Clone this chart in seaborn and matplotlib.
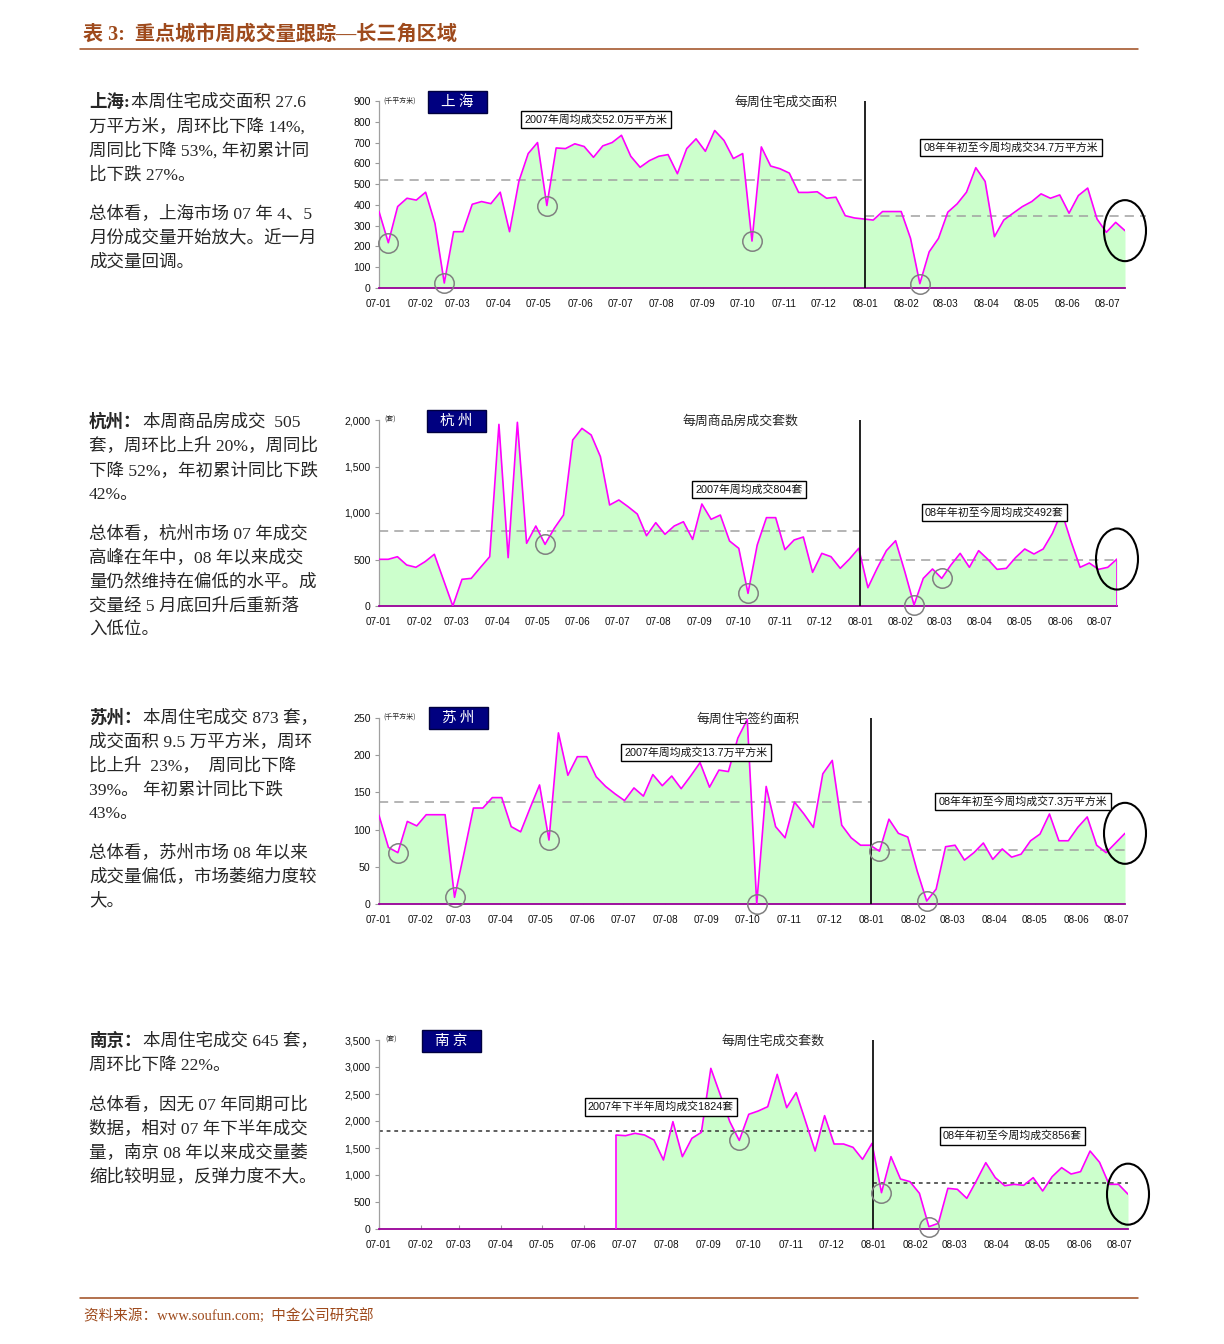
import pandas as pd
import numpy as np
import matplotlib
matplotlib.use('Agg')
import matplotlib.pyplot as plt
import matplotlib.dates as mdates
import seaborn as sns
from matplotlib.patches import Ellipse, Rectangle
from matplotlib.lines import Line2D
from matplotlib.transforms import ScaledTranslation
from matplotlib.ticker import FuncFormatter

sns.set_theme(style='white')
plt.rcParams['font.family'] = ['Liberation Sans', 'Noto Sans CJK SC', 'DejaVu Sans']
plt.rcParams['axes.unicode_minus'] = False

SANS = ['Liberation Sans', 'Noto Sans CJK SC', 'DejaVu Sans']
SERIF = ['Liberation Serif', 'Noto Sans CJK SC', 'DejaVu Sans']
CJK = ['Noto Sans CJK SC', 'DejaVu Sans']

# ---------------- data (weekly) ----------------
shanghai_values = [368, 218, 392, 432, 423, 461, 311, 24, 271, 271, 403, 416, 406, 461, 271, 513,
                   647, 700, 397, 674, 671, 694, 681, 629, 684, 700, 735, 634, 581, 613, 634, 642,
                   550, 671, 718, 658, 758, 710, 623, 647, 226, 679, 587, 574, 553, 460, 460, 463,
                   432, 437, 348, 337, 332, 327, 368, 368, 368, 239, 21, 174, 239, 365, 405, 461,
                   579, 513, 247, 327, 360, 392, 416, 453, 432, 448, 360, 445, 481, 332, 268, 316, 276]
hangzhou_values = [502, 502, 530, 441, 416, 477, 556, 278, 0, 287, 297, 415, 530, 1953, 520, 1975,
                   674, 860, 663, 835, 978, 1785, 1910, 1839, 1606, 1086, 1140, 1068, 989, 756, 896, 771,
                   860, 906, 716, 1097, 932, 978, 699, 620, 136, 656, 950, 950, 606, 710, 742, 362,
                   566, 530, 405, 505, 620, 197, 405, 595, 702, 369, 11, 297, 398, 297, 441, 566,
                   416, 595, 502, 394, 405, 520, 613, 559, 613, 781, 1014, 699, 416, 462, 394, 416, 505]
suzhou_values = [119, 76, 69, 111, 105, 120, 120, 120, 9, 68, 129, 129, 143, 143, 104, 97,
                 129, 160, 86, 230, 173, 198, 198, 171, 158, 148, 139, 156, 145, 174, 159, 172,
                 155, 172, 190, 157, 180, 178, 223, 248, 0, 158, 104, 89, 137, 121, 103, 175,
                 193, 106, 89, 79, 79, 71, 114, 95, 90, 44, 4, 20, 77, 79, 59, 69,
                 82, 60, 74, 63, 67, 85, 94, 121, 85, 85, 103, 117, 79, 69, 82, 95]
nanjing_values = [1740, 1728, 1772, 1741, 1648, 1278, 1988, 1340, 1679, 1790, 2975, 2482, 1988, 1640,
                  2124, 2185, 2265, 2864, 2247, 2525, 1988, 1444, 2099, 1574, 1574, 1512, 1290, 1586,
                  673, 1340, 926, 877, 661, 43, 105, 753, 735, 568, 889, 1228, 951, 802, 827, 809,
                  951, 704, 969, 1136, 1018, 1062, 1444, 1235, 827, 827, 645]

shanghai_dates = pd.date_range('2007-01-01', periods=len(shanghai_values), freq='7D')
hangzhou_dates = pd.date_range('2007-01-01', periods=len(hangzhou_values), freq='7D')
suzhou_dates = pd.date_range('2007-01-01', periods=len(suzhou_values), freq='7D')
nanjing_dates = pd.date_range('2007-06-25', periods=len(nanjing_values), freq='7D')

# averages
shanghai_avg = [520, 347]
hangzhou_avg = [804, 492]
suzhou_avg = [137, 73]
nanjing_avg = [1824, 856]

# highlighted low weeks (indices into each series)
shanghai_marks = [1, 7, 18, 40, 58]
hangzhou_marks = [18, 40, 58, 61]
suzhou_marks = [2, 8, 18, 40, 53, 58]
nanjing_marks = [13, 28, 33]

month_ticks = pd.date_range('2007-01-01', '2008-07-01', freq='MS')
month_labels = [d.strftime('%y-%m') for d in month_ticks]

START = pd.Timestamp('2007-01-01')
SEP = pd.Timestamp('2008-01-01')

W, H = 1224, 1344
FILL = '#CCFFCC'
LINE = '#FF00FF'
BROWN = '#9E4A1C'
BODY = 12.6

fig = plt.figure(figsize=(W / 100, H / 100), dpi=100)
fig.patch.set_facecolor('white')


def fx(x):
    return x / W


def fy(y):
    return 1 - y / H


def draw_panel(rect, dates, values, ymax, ystep, avgs, marks, avg_color, avg_dash,
               edge_left=False, edge_right=False, extend08=0):
    x0, x1, yt, yb = rect
    ax = fig.add_axes([fx(x0), fy(yb), (x1 - x0) / W, (yb - yt) / H])
    df = pd.DataFrame({'week': dates, 'value': values})
    ax.fill_between(df['week'], 0, df['value'], color=FILL, lw=0, zorder=1)
    sns.lineplot(data=df, x='week', y='value', ax=ax, color=LINE, lw=1.2, zorder=3)
    if edge_left:
        ax.vlines(dates[0], 0, values[0], color=LINE, lw=1.2, zorder=3)
    if edge_right:
        ax.vlines(dates[-1], 0, values[-1], color=LINE, lw=1.2, zorder=3)
    # averages
    ax.hlines(avgs[0], START, SEP, colors=avg_color, linestyles=avg_dash, lw=1.1, zorder=2)
    ax.hlines(avgs[1], SEP, dates[-1] + pd.Timedelta(days=extend08), colors=avg_color,
              linestyles=avg_dash, lw=1.1, zorder=2, clip_on=False)
    # year separator
    ax.axvline(SEP, color='#111111', lw=1.3, zorder=4)
    # circles around lows
    mx = [dates[i] for i in marks]
    my = [values[i] for i in marks]
    ax.plot(mx, my, 'o', ms=14, mfc='none', mec='#808080', mew=1.1, zorder=5, clip_on=False)
    # big ellipse on latest week
    trans = fig.dpi_scale_trans + ScaledTranslation(mdates.date2num(dates[-1]), values[-1], ax.transData)
    ell = Ellipse((0, 0), 0.42, 0.61, transform=trans, fill=False, ec='black', lw=1.5,
                  clip_on=False, zorder=6)
    ax.add_artist(ell)

    ax.set_xlim(START, dates[-1])
    ax.set_ylim(0, ymax)
    ax.set_yticks(np.arange(0, ymax + 1, ystep))
    ax.yaxis.set_major_formatter(FuncFormatter(lambda v, p: f'{int(v):,}'))
    ax.set_xticks(month_ticks)
    ax.set_xticklabels(month_labels)
    ax.set_xlabel('')
    ax.set_ylabel('')
    ax.tick_params(axis='x', bottom=True, direction='in', length=3, width=0.8,
                   color='#999999', pad=8, labelsize=7.2, labelcolor='#111111')
    ax.tick_params(axis='y', left=True, direction='out', length=3, width=0.8,
                   color='#999999', pad=3, labelsize=7.6, labelcolor='#111111')
    for lab in ax.get_xticklabels() + ax.get_yticklabels():
        lab.set_fontfamily(SANS)
    for s in ['top', 'right']:
        ax.spines[s].set_visible(False)
    ax.spines['left'].set_color('#A0A0A0')
    ax.spines['left'].set_linewidth(0.9)
    ax.spines['bottom'].set_color('#990099')
    ax.spines['bottom'].set_linewidth(1.3)
    ax.set_facecolor('none')
    ax.grid(False)
    return ax


def city_box(x0, y0, x1, y1, name):
    fig.add_artist(Rectangle((fx(x0), fy(y1)), (x1 - x0) / W, (y1 - y0) / H,
                             transform=fig.transFigure, fc='#000080', ec='#000040', lw=1))
    fig.text(fx((x0 + x1) / 2), fy((y0 + y1) / 2), name, color='white', fontsize=10.5,
             family=CJK, ha='center', va='center')


def note_box(cx, cy, text):
    fig.text(fx(cx), fy(cy), text, fontsize=7.8, family=SANS, ha='center', va='center',
             color='#111111',
             bbox=dict(boxstyle='square,pad=0.3', fc='white', ec='black', lw=1))


def left_text(lines):
    for y, txt, bold in lines:
        if bold:
            lead, rest = txt.split('|')
            t = fig.text(fx(89), fy(y), lead, fontsize=BODY, family=SERIF, weight='bold',
                         ha='left', va='center')
            fig.canvas.draw()
            bb = t.get_window_extent(renderer=fig.canvas.get_renderer())
            fig.text(bb.x1 / W + 0.001, fy(y), rest, fontsize=BODY, family=SERIF,
                     ha='left', va='center')
        else:
            fig.text(fx(89), fy(y), txt, fontsize=BODY, family=SERIF, ha='left', va='center')


# ---------------- header / footer ----------------
fig.text(fx(83), fy(35), '表 3:  重点城市周成交量跟踪—长三角区域', fontsize=14.5, weight='bold',
         color=BROWN, family=SERIF, ha='left', va='center')
fig.add_artist(Line2D([fx(80), fx(1138)], [fy(49), fy(49)], color=BROWN, lw=1.1,
                      transform=fig.transFigure))
fig.add_artist(Line2D([fx(80), fx(1138)], [fy(1298), fy(1298)], color=BROWN, lw=1.1,
                      transform=fig.transFigure))
fig.text(fx(84), fy(1315), '资料来源：www.soufun.com;  中金公司研究部', fontsize=10.5,
         color=BROWN, family=SERIF, ha='left', va='center')

GRAY_DASH = (0, (6, 4))
DOT_DASH = (0, (2.5, 2.5))

# ---------------- Shanghai ----------------
draw_panel((379, 1125, 101, 288), shanghai_dates, shanghai_values, 900, 100, shanghai_avg,
           shanghai_marks, '#A0A0A0', GRAY_DASH, extend08=16)
city_box(428, 91, 487, 113, '上 海')
fig.text(fx(383), fy(101), '(千平方米)', fontsize=5, family=CJK, ha='left', va='center')
fig.text(fx(786), fy(102), '每周住宅成交面积', fontsize=9.3, family=CJK, ha='center', va='center')
note_box(596, 119.5, '2007年周均成交52.0万平方米')
note_box(1011, 147.5, '08年年初至今周均成交34.7万平方米')
left_text([
    (102, '上海:|本周住宅成交面积 27.6', True),
    (127, '万平方米，周环比下降 14%,', False),
    (151, '周同比下降 53%, 年初累计同', False),
    (175, '比下跌 27%。', False),
    (214, '总体看，上海市场 07 年 4、5', False),
    (238, '月份成交量开始放大。近一月', False),
    (262, '成交量回调。', False),
])

# ---------------- Hangzhou ----------------
draw_panel((379, 1117, 420, 606), hangzhou_dates, hangzhou_values, 2000, 500, hangzhou_avg,
           hangzhou_marks, '#A0A0A0', GRAY_DASH, edge_right=True)
city_box(427, 410, 486, 432, '杭 州')
fig.text(fx(384), fy(420), '(套)', fontsize=5, family=CJK, ha='left', va='center')
fig.text(fx(740), fy(421), '每周商品房成交套数', fontsize=9.3, family=CJK, ha='center', va='center')
note_box(749, 489.5, '2007年周均成交804套')
note_box(994.5, 512.5, '08年年初至今周均成交492套')
left_text([
    (422, '杭州：|本周商品房成交  505', True),
    (446, '套，周环比上升 20%，周同比', False),
    (471, '下降 52%，年初累计同比下跌', False),
    (495, '42%。', False),
    (534, '总体看，杭州市场 07 年成交', False),
    (558, '高峰在年中，08 年以来成交', False),
    (582, '量仍然维持在偏低的水平。成', False),
    (606, '交量经 5 月底回升后重新落', False),
    (630, '入低位。', False),
])

# ---------------- Suzhou ----------------
draw_panel((379, 1125, 718, 904), suzhou_dates, suzhou_values, 250, 50, suzhou_avg,
           suzhou_marks, '#A0A0A0', GRAY_DASH)
city_box(429, 707, 488, 729, '苏 州')
fig.text(fx(383), fy(717), '(千平方米)', fontsize=5, family=CJK, ha='left', va='center')
fig.text(fx(748), fy(719), '每周住宅签约面积', fontsize=9.3, family=CJK, ha='center', va='center')
note_box(696, 752.5, '2007年周均成交13.7万平方米')
note_box(1023, 801.5, '08年年初至今周均成交7.3万平方米')
left_text([
    (718, '苏州：|本周住宅成交 873 套，', True),
    (742, '成交面积 9.5 万平方米，周环', False),
    (766, '比上升  23%，  周同比下降', False),
    (790, '39%。 年初累计同比下跌', False),
    (814, '43%。', False),
    (853, '总体看，苏州市场 08 年以来', False),
    (877, '成交量偏低，市场萎缩力度较', False),
    (901, '大。', False),
])

# ---------------- Nanjing ----------------
draw_panel((379, 1128, 1040, 1229), nanjing_dates, nanjing_values, 3500, 500, nanjing_avg,
           nanjing_marks, '#333333', DOT_DASH, edge_left=True)
city_box(422, 1030, 481, 1052, '南 京')
fig.text(fx(385), fy(1040), '(套)', fontsize=5, family=CJK, ha='left', va='center')
fig.text(fx(773), fy(1041), '每周住宅成交套数', fontsize=9.3, family=CJK, ha='center', va='center')
note_box(661, 1107, '2007年下半年周均成交1824套')
note_box(1012.5, 1136, '08年年初至今周均成交856套')
left_text([
    (1041, '南京：|本周住宅成交 645 套，', True),
    (1065, '周环比下降 22%。', False),
    (1105, '总体看，因无 07 年同期可比', False),
    (1129, '数据，相对 07 年下半年成交', False),
    (1153, '量，南京 08 年以来成交量萎', False),
    (1177, '缩比较明显，反弹力度不大。', False),
])

fig.savefig('out.png', dpi=100, facecolor='white')
